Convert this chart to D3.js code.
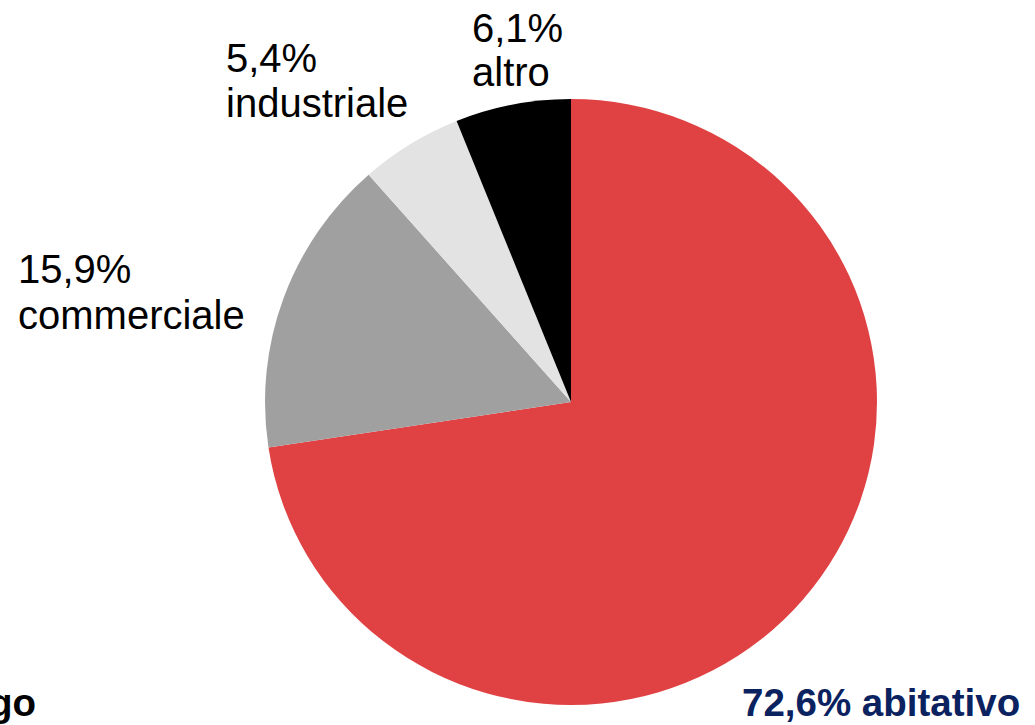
<!DOCTYPE html>
<html><head><meta charset="utf-8">
<script src="https://cdn.jsdelivr.net/npm/d3@7"></script>
<style>html,body{margin:0;padding:0;background:#fff;}svg{display:block;}</style>
</head><body>
<svg id="c" width="1035" height="725"></svg>
<script>
const categories = ["abitativo", "commerciale", "industriale", "altro"];
const values = [72.6, 15.9, 5.4, 6.1];
const valueLabels = ["72,6%", "15,9%", "5,4%", "6,1%"];
const colors = ["#E04243", "#A0A0A0", "#E3E3E3", "#000000"];

const svg = d3.select("#c");
const cx = 571, cy = 402, r = 306;
const pie = d3.pie().sort(null).value(d => d)(values);
const arc = d3.arc().innerRadius(0).outerRadius(r);
const g = svg.append("g").attr("transform", `translate(${cx},${cy}) scale(1,0.99)`);
g.selectAll("path").data(pie).enter().append("path")
  .attr("d", arc).attr("fill", (d, i) => colors[i]);

const font = "'Liberation Sans', Arial, sans-serif";
// two-line labels for small slices
const labelPos = [null, [18, 283, 329], [226, 72, 117], [472, 42, 86]];
for (let i = 1; i < categories.length; i++) {
  const [x, y1, y2] = labelPos[i];
  const t = svg.append("text").attr("font-family", font).attr("font-size", 40).attr("fill", "#000");
  t.append("tspan").attr("x", x).attr("y", y1).text(valueLabels[i]);
  t.append("tspan").attr("x", x).attr("y", y2).text(categories[i]);
}
svg.append("text").attr("x", 742).attr("y", 716).attr("font-family", font)
  .attr("font-size", 38.5).attr("font-weight", "bold").attr("fill", "#0B2260")
  .text(valueLabels[0] + " " + categories[0]);
svg.append("text").attr("x", 36).attr("y", 716).attr("text-anchor", "end").attr("font-family", font)
  .attr("font-size", 38.5).attr("font-weight", "bold").attr("fill", "#000")
  .text("go");
</script>
</body></html>
